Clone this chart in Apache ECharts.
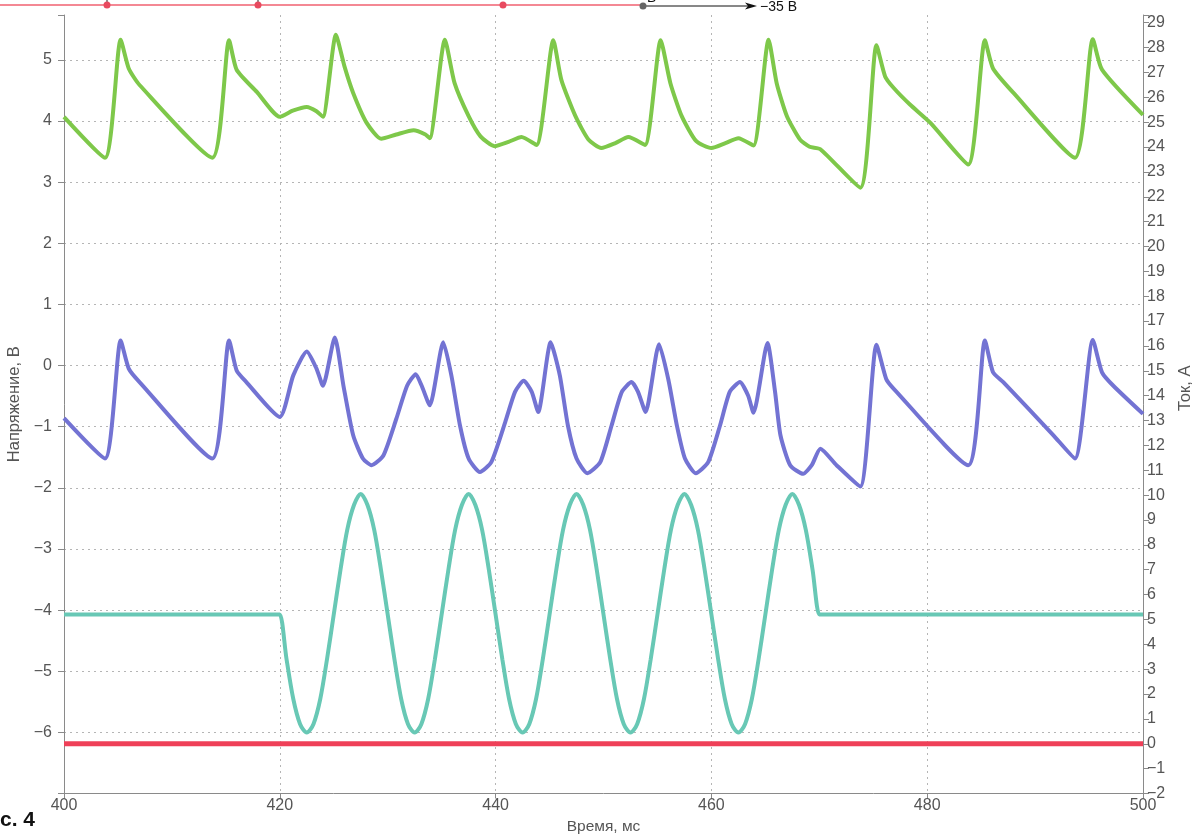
<!DOCTYPE html>
<html>
<head>
<meta charset="utf-8">
<script src="https://cdn.jsdelivr.net/npm/echarts@6/dist/echarts.min.js"></script>
<style>
html,body{margin:0;padding:0;background:#fff;}
#c{width:1198px;height:835px;}
</style>
</head>
<body>
<div id="c"></div>
<script>
// ---- data ----
// X-axis ticks (ms)
const xTicks = [400, 420, 440, 460, 480, 500];

// Green trace (left axis, V)
const greenT = [400, 403.8, 405.25, 406.0, 407.0, 413.75, 415.3, 416.0, 417.85, 420.0, 421.2, 422.5, 423.4, 424.0,
  425.2, 426.0, 426.8, 428.05, 429.4, 430.8, 432.4, 433.5, 433.9, 435.3, 436.2, 437.5, 438.6, 439.9, 441.2, 442.4,
  443.8, 445.35, 446.1, 447.4, 448.6, 449.8, 451.1, 452.3, 453.85, 455.3, 456.2, 457.25, 458.6, 460.0, 461.3, 462.5,
  463.9, 465.3, 466.05, 467.0, 468.2, 469.1, 470.1, 473.8, 475.3, 476.1, 476.9, 478.4, 480.3, 483.8, 485.35, 486.1,
  488.0, 493.7, 495.35, 496.2, 500.0];
const greenV = [4.07, 3.40, 5.33, 4.86, 4.59, 3.40, 5.32, 4.84, 4.48, 4.07, 4.17, 4.23, 4.16, 4.07,
  5.41, 4.89, 4.46, 3.97, 3.71, 3.78, 3.85, 3.78, 3.72, 5.33, 4.62, 4.08, 3.75, 3.59, 3.66, 3.74,
  3.61, 5.32, 4.67, 4.08, 3.70, 3.56, 3.64, 3.74, 3.61, 5.32, 4.62, 4.08, 3.67, 3.56, 3.64, 3.72,
  3.60, 5.33, 4.62, 4.08, 3.70, 3.58, 3.54, 2.91, 5.24, 4.73, 4.54, 4.27, 3.97, 3.29, 5.32, 4.86,
  4.46, 3.40, 5.34, 4.84, 4.10];

// Purple trace (left axis, V)
const purpleT = [400, 403.8, 405.25, 406.0, 407.0, 413.75, 415.3, 416.0, 416.9, 420.0, 421.25, 422.5, 423.4, 424.0,
  425.1, 425.9, 426.8, 427.7, 428.5, 429.6, 430.8, 431.8, 432.6, 433.15, 433.9, 435.15, 435.9, 436.7, 437.5, 438.55,
  439.6, 440.9, 441.8, 442.6, 443.35, 443.95, 445.1, 445.95, 446.7, 447.5, 448.5, 449.7, 450.75, 451.7, 452.6, 453.2,
  453.9, 455.15, 456.0, 456.8, 457.55, 458.55, 459.7, 460.8, 461.7, 462.65, 463.4, 463.9, 465.2, 465.9, 466.4, 467.3,
  468.5, 469.3, 470.1, 471.6, 473.8, 475.3, 476.2, 476.9, 483.8, 485.35, 486.1, 487.05, 491.7, 493.7, 495.35, 496.2,
  497.25, 500];
const purpleV = [-0.86, -1.52, 0.41, -0.05, -0.27, -1.52, 0.41, -0.08, -0.27, -0.84, -0.16, 0.23, -0.05, -0.33,
  0.46, -0.33, -1.14, -1.52, -1.63, -1.47, -0.87, -0.33, -0.14, -0.33, -0.65, 0.38, -0.16, -0.98, -1.52, -1.74,
  -1.58, -0.92, -0.43, -0.25, -0.43, -0.76, 0.38, -0.16, -0.98, -1.52, -1.76, -1.58, -0.98, -0.43, -0.27, -0.43,
  -0.76, 0.35, -0.22, -0.98, -1.52, -1.76, -1.58, -0.98, -0.43, -0.27, -0.49, -0.77, 0.37, -0.43, -1.14, -1.63,
  -1.77, -1.63, -1.36, -1.63, -1.98, 0.34, -0.22, -0.38, -1.63, 0.41, -0.11, -0.27, -1.14, -1.52, 0.42, -0.11,
  -0.33, -0.79];

// Teal trace (right axis, A)
const tealT = [400, 419.8,
  420, 420.625, 421.25, 421.875, 422.5, 423.125, 423.75, 424.375, 425, 425.625, 426.25, 426.875, 427.5, 428.125, 428.75, 429.375,
  430, 430.625, 431.25, 431.875, 432.5, 433.125, 433.75, 434.375, 435, 435.625, 436.25, 436.875, 437.5, 438.125, 438.75, 439.375,
  440, 440.625, 441.25, 441.875, 442.5, 443.125, 443.75, 444.375, 445, 445.625, 446.25, 446.875, 447.5, 448.125, 448.75, 449.375,
  450, 450.625, 451.25, 451.875, 452.5, 453.125, 453.75, 454.375, 455, 455.625, 456.25, 456.875, 457.5, 458.125, 458.75, 459.375,
  460, 460.625, 461.25, 461.875, 462.5, 463.125, 463.75, 464.375, 465, 465.625, 466.25, 466.875, 467.5, 468.125, 468.75, 469.375,
  470, 470.2, 500];
const tealA = [5.2, 5.2,
  5.2, 3.4, 1.8, 0.8, 0.45, 0.8, 1.8, 3.4, 5.2, 7.0, 8.6, 9.6, 10.05, 9.6, 8.6, 7.0,
  5.2, 3.4, 1.8, 0.8, 0.45, 0.8, 1.8, 3.4, 5.2, 7.0, 8.6, 9.6, 10.05, 9.6, 8.6, 7.0,
  5.2, 3.4, 1.8, 0.8, 0.45, 0.8, 1.8, 3.4, 5.2, 7.0, 8.6, 9.6, 10.05, 9.6, 8.6, 7.0,
  5.2, 3.4, 1.8, 0.8, 0.45, 0.8, 1.8, 3.4, 5.2, 7.0, 8.6, 9.6, 10.05, 9.6, 8.6, 7.0,
  5.2, 3.4, 1.8, 0.8, 0.45, 0.8, 1.8, 3.4, 5.2, 7.0, 8.6, 9.6, 10.05, 9.6, 8.6, 7.0,
  5.2, 5.2, 5.2];

// Red trace (right axis, A)
const redT = [400, 500];
const redA = [0, 0];

// ---- chart ----
const pairs = (t, v) => t.map((x, i) => [x, v[i]]);
const fmtNum = v => {
  if (Math.abs(v - Math.round(v)) > 1e-6) return '';
  return v < 0 ? '\u2212' + Math.abs(v) : String(v);
};
const FONT = '"Liberation Sans", Arial, sans-serif';
const axisGray = '#8a8a8a';
const labelGray = '#555';

const chart = echarts.init(document.getElementById('c'), null, {renderer: 'canvas'});
chart.setOption({
  animation: false,
  backgroundColor: '#fff',
  textStyle: {fontFamily: FONT},
  grid: {left: 64, right: 55, top: 15, bottom: 41.5, containLabel: false, outerBoundsMode: 'none'},
  xAxis: {
    type: 'value', min: xTicks[0], max: xTicks[xTicks.length - 1], interval: 20,
    name: 'Время, мс', nameLocation: 'middle', nameGap: 23,
    nameTextStyle: {color: labelGray, fontSize: 15.5, fontFamily: FONT},
    axisLine: {show: true, onZero: false, lineStyle: {color: axisGray, width: 1}},
    axisTick: {show: true, length: 5, lineStyle: {color: axisGray}},
    axisLabel: {color: labelGray, fontSize: 16, margin: 4, fontFamily: FONT},
    splitLine: {show: true, showMinLine: false, showMaxLine: false,
      lineStyle: {color: '#b5b5b5', type: [2, 4], width: 1}}
  },
  yAxis: [{
    type: 'value', position: 'left', min: -7, max: 5.735, interval: 1,
    name: 'Напряжение, В', nameLocation: 'middle', nameGap: 40, nameRotate: 90,
    nameTextStyle: {color: labelGray, fontSize: 16.5, fontFamily: FONT},
    axisLine: {show: true, onZero: false, lineStyle: {color: axisGray, width: 1}},
    axisTick: {show: true, length: 6, lineStyle: {color: axisGray}},
    axisLabel: {color: labelGray, fontSize: 16, margin: 12, fontFamily: FONT,
      formatter: v => (v <= -7 ? '' : fmtNum(v))},
    splitLine: {show: true, showMinLine: false, showMaxLine: false,
      lineStyle: {color: '#b5b5b5', type: [2, 4], width: 1}}
  }, {
    type: 'value', position: 'right', min: -2, max: 29.31, interval: 1,
    name: 'Ток, А', nameLocation: 'middle', nameGap: 34, nameRotate: 90,
    nameTextStyle: {color: labelGray, fontSize: 16.5, fontFamily: FONT, padding: [0, 0, 0, 32]},
    axisLine: {show: true, onZero: false, lineStyle: {color: axisGray, width: 1}},
    axisTick: {show: true, length: 6, lineStyle: {color: axisGray}},
    axisLabel: {color: labelGray, fontSize: 16, margin: 4, fontFamily: FONT,
      formatter: v => fmtNum(v)},
    splitLine: {show: false}
  }],
  series: [{
    name: 'green', type: 'line', yAxisIndex: 0, data: pairs(greenT, greenV),
    showSymbol: false, smooth: 0.2, lineStyle: {color: '#7ec84a', width: 4}, z: 3
  }, {
    name: 'purple', type: 'line', yAxisIndex: 0, data: pairs(purpleT, purpleV),
    showSymbol: false, smooth: 0.2, lineStyle: {color: '#7373d3', width: 4}, z: 3
  }, {
    name: 'teal', type: 'line', yAxisIndex: 1, data: pairs(tealT, tealA),
    showSymbol: false, smooth: 0.3, lineStyle: {color: '#68c8b5', width: 4}, z: 3
  }, {
    name: 'red', type: 'line', yAxisIndex: 1, data: pairs(redT, redA),
    showSymbol: false, lineStyle: {color: '#ef4058', width: 5}, z: 3
  }],
  graphic: [
    {type: 'line', shape: {x1: 0, y1: 5, x2: 643, y2: 5}, style: {stroke: '#f06070', lineWidth: 1.5}, silent: true},
    {type: 'line', shape: {x1: 107, y1: 0, x2: 107, y2: 4}, style: {stroke: '#222', lineWidth: 1}, silent: true},
    {type: 'line', shape: {x1: 258, y1: 0, x2: 258, y2: 4}, style: {stroke: '#222', lineWidth: 1}, silent: true},
    {type: 'circle', shape: {cx: 107, cy: 5, r: 3.5}, style: {fill: '#e84a5f'}, silent: true},
    {type: 'circle', shape: {cx: 258, cy: 5, r: 3.5}, style: {fill: '#e84a5f'}, silent: true},
    {type: 'circle', shape: {cx: 503, cy: 5, r: 3.5}, style: {fill: '#e84a5f'}, silent: true},
    {type: 'line', shape: {x1: 643, y1: 6, x2: 752, y2: 6}, style: {stroke: '#111', lineWidth: 1}, silent: true},
    {type: 'polygon', shape: {points: [[757, 6], [745, 2.5], [748, 6], [745, 9.5]]}, style: {fill: '#111'}, silent: true},
    {type: 'circle', shape: {cx: 643, cy: 6, r: 3.5}, style: {fill: '#666'}, silent: true},
    {type: 'text', x: 647, y: 5, style: {text: 'В', fill: '#111', font: '14px ' + FONT, textVerticalAlign: 'bottom'}, silent: true},
    {type: 'text', x: 760, y: 7, style: {text: '\u221235 В', fill: '#111', font: '14px ' + FONT, textVerticalAlign: 'middle'}, silent: true},
    {type: 'text', x: 0, y: 820, style: {text: 'с. 4', fill: '#111', font: 'bold 21px ' + FONT, textVerticalAlign: 'middle'}, silent: true}
  ]
});
</script>
</body>
</html>
